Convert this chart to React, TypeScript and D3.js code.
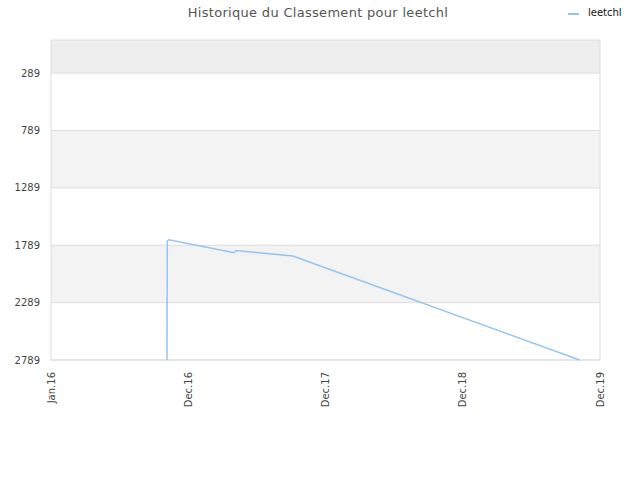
import React, { useEffect, useRef } from 'react';
import * as d3 from 'd3';

const dates = ['2016-10-29', '2016-10-30', '2016-11-03', '2017-04-22', '2017-04-27', '2017-09-22', '2019-10-09'];
const ranks = [2789, 1752, 1741, 1854, 1835, 1883, 2789];

const yTicks = [289, 789, 1289, 1789, 2289, 2789];
const xStart = '2016-01-01';
const xEnd = '2019-12-01';
const xTickLabels = ['Jan.16', 'Dec.16', 'Dec.17', 'Dec.18', 'Dec.19'];

const seriesName = 'leetchl';
const title = 'Historique du Classement pour leetchl';

const App: React.FC = () => {
  const svgRef = useRef<SVGSVGElement>(null);

  useEffect(() => {
    const width = 640;
    const height = 480;
    const margin = { top: 40, right: 40, bottom: 120, left: 51 };
    const font = '"DejaVu Sans", Verdana, sans-serif';

    const svg = d3.select(svgRef.current);
    svg.selectAll('*').remove();
    svg.attr('width', width).attr('height', height);

    const parse = d3.timeParse('%Y-%m-%d');
    const t0 = parse(xStart)!;
    const t1 = parse(xEnd)!;
    const x = d3.scaleTime()
      .domain([t0, t1])
      .range([margin.left, width - margin.right]);
    const y = d3.scaleLinear()
      .domain([0, 2789])
      .range([margin.top, height - margin.bottom]);

    const x0 = margin.left;
    const x1 = width - margin.right;

    // alternating bands
    const edges = [0, ...yTicks];
    edges.slice(0, -1).forEach((v, i) => {
      const fill = i === 0 ? '#eeeeee' : i % 2 === 0 ? '#f3f3f3' : '#ffffff';
      svg.append('rect')
        .attr('x', x0)
        .attr('y', y(v))
        .attr('width', x1 - x0)
        .attr('height', y(edges[i + 1]) - y(v))
        .attr('fill', fill);
    });

    // grid lines
    yTicks.forEach(t => {
      svg.append('line')
        .attr('x1', x0).attr('x2', x1)
        .attr('y1', y(t)).attr('y2', y(t))
        .attr('stroke', '#dddddd')
        .attr('stroke-width', 1);
    });

    // frame
    svg.append('rect')
      .attr('x', x0)
      .attr('y', margin.top)
      .attr('width', x1 - x0)
      .attr('height', height - margin.bottom - margin.top)
      .attr('fill', 'none')
      .attr('stroke', '#dddddd');

    // y labels
    yTicks.forEach(t => {
      svg.append('text')
        .attr('x', x0 - 11)
        .attr('y', y(t))
        .attr('dy', '0.35em')
        .attr('text-anchor', 'end')
        .attr('font-family', font)
        .attr('font-size', 10)
        .attr('fill', '#444')
        .text(String(t));
    });

    // x labels, evenly spaced across the time domain
    const step = (t1.getTime() - t0.getTime()) / (xTickLabels.length - 1);
    xTickLabels.forEach((label, i) => {
      const px = x(new Date(t0.getTime() + i * step));
      svg.append('text')
        .attr('transform', `translate(${px}, ${height - margin.bottom + 12}) rotate(-90)`)
        .attr('text-anchor', 'end')
        .attr('dy', '0.35em')
        .attr('font-family', font)
        .attr('font-size', 10)
        .attr('fill', '#444')
        .text(label);
    });

    // series line
    const points = dates.map((d, i) => ({ date: parse(d)!, rank: ranks[i] }));
    const line = d3.line<{ date: Date; rank: number }>()
      .x(d => x(d.date))
      .y(d => y(d.rank));

    svg.append('path')
      .datum(points)
      .attr('d', line)
      .attr('fill', 'none')
      .attr('stroke', '#92c4f4')
      .attr('stroke-width', 1.5);

    // title
    svg.append('text')
      .attr('x', 318)
      .attr('y', 17)
      .attr('text-anchor', 'middle')
      .attr('font-family', font)
      .attr('font-size', 13)
      .attr('letter-spacing', 0.3)
      .attr('fill', '#555')
      .text(title);

    // legend
    svg.append('line')
      .attr('x1', 568).attr('x2', 579)
      .attr('y1', 14).attr('y2', 14)
      .attr('stroke', '#92c4f4')
      .attr('stroke-width', 2);
    svg.append('text')
      .attr('x', 588)
      .attr('y', 16)
      .attr('font-family', font)
      .attr('font-size', 10)
      .attr('fill', '#111')
      .text(seriesName);
  }, []);

  return <svg ref={svgRef} style={{ position: 'absolute', left: 0, top: 0 }}></svg>;
};

export default App;
